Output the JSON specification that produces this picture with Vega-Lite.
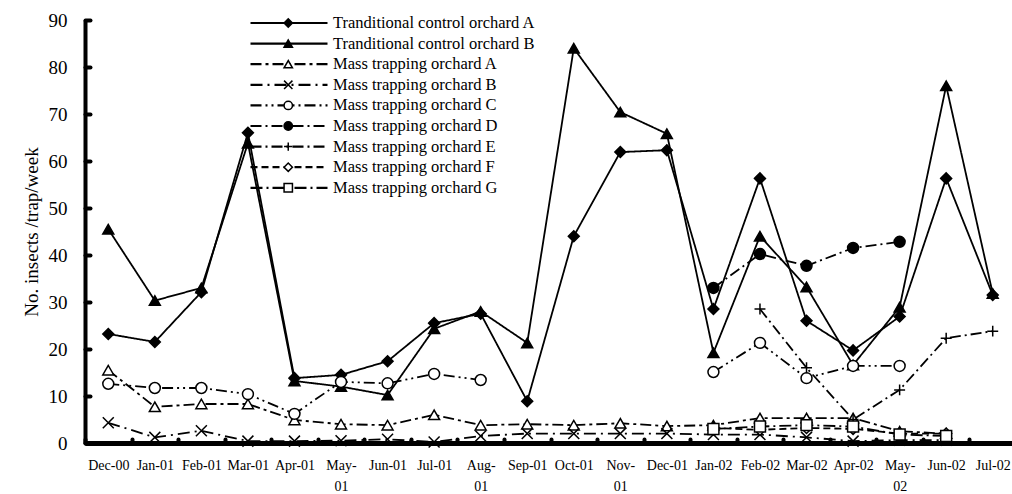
{
  "$schema": "https://vega.github.io/schema/vega-lite/v6.json",
  "width": 931,
  "height": 423,
  "autosize": {"type": "none"},
  "padding": {"left": 85, "top": 20, "right": 0, "bottom": 51},
  "background": "white",
  "config": {"view": {"stroke": null}, "font": "Liberation Serif"},
  "data": {
    "values": [
      {"month": "Dec-00", "Tranditional control orchard A": 23.2, "Tranditional control orchard B": 45.5, "Mass trapping orchard A": 15.5, "Mass trapping orchard B": 4.3, "Mass trapping orchard C": 12.6, "Mass trapping orchard D": null, "Mass trapping orchard E": null, "Mass trapping orchard F": null, "Mass trapping orchard G": null},
      {"month": "Jan-01", "Tranditional control orchard A": 21.5, "Tranditional control orchard B": 30.3, "Mass trapping orchard A": 7.7, "Mass trapping orchard B": 1.2, "Mass trapping orchard C": 11.7, "Mass trapping orchard D": null, "Mass trapping orchard E": null, "Mass trapping orchard F": null, "Mass trapping orchard G": null},
      {"month": "Feb-01", "Tranditional control orchard A": 32.1, "Tranditional control orchard B": 33.0, "Mass trapping orchard A": 8.3, "Mass trapping orchard B": 2.6, "Mass trapping orchard C": 11.7, "Mass trapping orchard D": null, "Mass trapping orchard E": null, "Mass trapping orchard F": null, "Mass trapping orchard G": null},
      {"month": "Mar-01", "Tranditional control orchard A": 66.0, "Tranditional control orchard B": 63.8, "Mass trapping orchard A": 8.3, "Mass trapping orchard B": 0.4, "Mass trapping orchard C": 10.4, "Mass trapping orchard D": null, "Mass trapping orchard E": null, "Mass trapping orchard F": null, "Mass trapping orchard G": null},
      {"month": "Apr-01", "Tranditional control orchard A": 13.8, "Tranditional control orchard B": 13.2, "Mass trapping orchard A": 4.9, "Mass trapping orchard B": 0.4, "Mass trapping orchard C": 6.2, "Mass trapping orchard D": null, "Mass trapping orchard E": null, "Mass trapping orchard F": null, "Mass trapping orchard G": null},
      {"month": "May-01", "Tranditional control orchard A": 14.5, "Tranditional control orchard B": 12.0, "Mass trapping orchard A": 4.0, "Mass trapping orchard B": 0.5, "Mass trapping orchard C": 13.0, "Mass trapping orchard D": null, "Mass trapping orchard E": null, "Mass trapping orchard F": null, "Mass trapping orchard G": null},
      {"month": "Jun-01", "Tranditional control orchard A": 17.4, "Tranditional control orchard B": 10.2, "Mass trapping orchard A": 3.8, "Mass trapping orchard B": 0.8, "Mass trapping orchard C": 12.7, "Mass trapping orchard D": null, "Mass trapping orchard E": null, "Mass trapping orchard F": null, "Mass trapping orchard G": null},
      {"month": "Jul-01", "Tranditional control orchard A": 25.5, "Tranditional control orchard B": 24.3, "Mass trapping orchard A": 6.0, "Mass trapping orchard B": 0.2, "Mass trapping orchard C": 14.7, "Mass trapping orchard D": null, "Mass trapping orchard E": null, "Mass trapping orchard F": null, "Mass trapping orchard G": null},
      {"month": "Aug-01", "Tranditional control orchard A": 27.5, "Tranditional control orchard B": 28.0, "Mass trapping orchard A": 3.8, "Mass trapping orchard B": 1.5, "Mass trapping orchard C": 13.4, "Mass trapping orchard D": null, "Mass trapping orchard E": null, "Mass trapping orchard F": null, "Mass trapping orchard G": null},
      {"month": "Sep-01", "Tranditional control orchard A": 8.9, "Tranditional control orchard B": 21.3, "Mass trapping orchard A": 4.0, "Mass trapping orchard B": 2.0, "Mass trapping orchard C": null, "Mass trapping orchard D": null, "Mass trapping orchard E": null, "Mass trapping orchard F": null, "Mass trapping orchard G": null},
      {"month": "Oct-01", "Tranditional control orchard A": 44.0, "Tranditional control orchard B": 84.0, "Mass trapping orchard A": 3.8, "Mass trapping orchard B": 2.0, "Mass trapping orchard C": null, "Mass trapping orchard D": null, "Mass trapping orchard E": null, "Mass trapping orchard F": null, "Mass trapping orchard G": null},
      {"month": "Nov-01", "Tranditional control orchard A": 61.9, "Tranditional control orchard B": 70.4, "Mass trapping orchard A": 4.2, "Mass trapping orchard B": 2.0, "Mass trapping orchard C": null, "Mass trapping orchard D": null, "Mass trapping orchard E": null, "Mass trapping orchard F": null, "Mass trapping orchard G": null},
      {"month": "Dec-01", "Tranditional control orchard A": 62.3, "Tranditional control orchard B": 65.8, "Mass trapping orchard A": 3.6, "Mass trapping orchard B": 2.0, "Mass trapping orchard C": null, "Mass trapping orchard D": null, "Mass trapping orchard E": null, "Mass trapping orchard F": null, "Mass trapping orchard G": null},
      {"month": "Jan-02", "Tranditional control orchard A": 28.5, "Tranditional control orchard B": 19.2, "Mass trapping orchard A": 3.8, "Mass trapping orchard B": 1.8, "Mass trapping orchard C": 15.1, "Mass trapping orchard D": 33.0, "Mass trapping orchard E": null, "Mass trapping orchard F": 3.2, "Mass trapping orchard G": 3.0},
      {"month": "Feb-02", "Tranditional control orchard A": 56.3, "Tranditional control orchard B": 44.0, "Mass trapping orchard A": 5.3, "Mass trapping orchard B": 1.8, "Mass trapping orchard C": 21.3, "Mass trapping orchard D": 40.2, "Mass trapping orchard E": 28.5, "Mass trapping orchard F": 2.8, "Mass trapping orchard G": 3.5},
      {"month": "Mar-02", "Tranditional control orchard A": 26.0, "Tranditional control orchard B": 33.2, "Mass trapping orchard A": 5.3, "Mass trapping orchard B": 1.2, "Mass trapping orchard C": 13.8, "Mass trapping orchard D": 37.7, "Mass trapping orchard E": 16.0, "Mass trapping orchard F": 3.2, "Mass trapping orchard G": 3.8},
      {"month": "Apr-02", "Tranditional control orchard A": 19.7, "Tranditional control orchard B": 16.6, "Mass trapping orchard A": 5.3, "Mass trapping orchard B": 0.4, "Mass trapping orchard C": 16.4, "Mass trapping orchard D": 41.5, "Mass trapping orchard E": 5.0, "Mass trapping orchard F": 3.0, "Mass trapping orchard G": 3.5},
      {"month": "May-02", "Tranditional control orchard A": 26.9, "Tranditional control orchard B": 28.9, "Mass trapping orchard A": 2.5, "Mass trapping orchard B": 0.6, "Mass trapping orchard C": 16.4, "Mass trapping orchard D": 42.8, "Mass trapping orchard E": 11.3, "Mass trapping orchard F": 2.0, "Mass trapping orchard G": 1.8},
      {"month": "Jun-02", "Tranditional control orchard A": 56.3, "Tranditional control orchard B": 76.0, "Mass trapping orchard A": 2.0, "Mass trapping orchard B": 0.6, "Mass trapping orchard C": null, "Mass trapping orchard D": null, "Mass trapping orchard E": 22.3, "Mass trapping orchard F": 2.0, "Mass trapping orchard G": 1.5},
      {"month": "Jul-02", "Tranditional control orchard A": 31.5, "Tranditional control orchard B": 31.8, "Mass trapping orchard A": null, "Mass trapping orchard B": null, "Mass trapping orchard C": null, "Mass trapping orchard D": null, "Mass trapping orchard E": 23.8, "Mass trapping orchard F": null, "Mass trapping orchard G": null}
    ]
  },
  "transform": [
    {"fold": ["Tranditional control orchard A", "Tranditional control orchard B", "Mass trapping orchard A", "Mass trapping orchard B", "Mass trapping orchard C", "Mass trapping orchard D", "Mass trapping orchard E", "Mass trapping orchard F", "Mass trapping orchard G"], "as": ["series", "value"]}
  ],
  "encoding": {
    "x": {
      "field": "month", "type": "nominal",
      "sort": ["Dec-00","Jan-01","Feb-01","Mar-01","Apr-01","May-01","Jun-01","Jul-01","Aug-01","Sep-01","Oct-01","Nov-01","Dec-01","Jan-02","Feb-02","Mar-02","Apr-02","May-02","Jun-02","Jul-02"],
      "scale": {"type": "band", "paddingInner": 0, "paddingOuter": 0},
      "axis": {
        "title": null, "labelAngle": 0, "labelFont": "Liberation Serif", "labelFontSize": 14, "labelColor": "black",
        "labelPadding": 19, "labelOverlap": false, "labelLineHeight": 21,
        "labelExpr": "indexof(['May-01','Aug-01','Nov-01','May-02'], datum.label) >= 0 ? [slice(datum.label, 0, 4), slice(datum.label, 4)] : datum.label",
        "tickBand": "extent", "tickSize": -4, "tickWidth": 4, "tickCap": "round", "tickColor": "black",
        "domainWidth": 5, "domainColor": "black", "grid": false
      }
    },
    "y": {
      "field": "value", "type": "quantitative",
      "scale": {"domain": [0, 90], "nice": false},
      "axis": {
        "title": "No. insects /trap/week", "titleFont": "Liberation Serif", "titleFontSize": 19, "titleFontWeight": "normal", "titleColor": "black", "titlePadding": 7,
        "values": [0,10,20,30,40,50,60,70,80,90],
        "labelFont": "Liberation Serif", "labelFontSize": 19, "labelColor": "black", "labelPadding": 23,
        "tickSize": -5, "tickWidth": 4, "tickCap": "round", "tickColor": "black",
        "domainWidth": 4, "domainColor": "black", "grid": false
      }
    }
  },
  "layer": [
    {
      "mark": {"type": "line", "color": "black", "strokeWidth": 1.8},
      "encoding": {
        "strokeDash": {
          "field": "series", "type": "nominal",
          "sort": ["Tranditional control orchard A", "Tranditional control orchard B", "Mass trapping orchard A", "Mass trapping orchard B", "Mass trapping orchard C", "Mass trapping orchard D", "Mass trapping orchard E", "Mass trapping orchard F", "Mass trapping orchard G"],
          "scale": {
            "range": [[1, 0], [1, 0], [11, 4, 3, 4], [12, 5, 2, 5], [11, 4, 2, 4, 2, 4], [11, 4, 2, 4], [11, 4, 2, 4], [7, 4], [12, 4, 2, 4]]
          },
          "legend": {
            "orient": "none", "legendX": 164, "legendY": -5, "title": null, "padding": 0,
            "symbolType": "stroke", "symbolSize": 5929, "symbolStrokeWidth": 2.2, "symbolStrokeColor": "black",
            "clipHeight": 16, "rowPadding": 3.6, "labelOffset": 4, "labelLimit": 0,
            "labelFont": "Liberation Serif", "labelFontSize": 16.5, "labelColor": "black"
          }
        }
      }
    },
    {
      "mark": {"type": "point", "filled": true, "stroke": "black", "strokeWidth": 1.5, "size": 120, "opacity": 1},
      "encoding": {
        "shape": {
          "field": "series", "type": "nominal",
          "scale": {
            "domain": ["Tranditional control orchard A", "Tranditional control orchard B", "Mass trapping orchard A", "Mass trapping orchard B", "Mass trapping orchard C", "Mass trapping orchard D", "Mass trapping orchard E", "Mass trapping orchard F", "Mass trapping orchard G"],
            "range": ["diamond", "triangle-up", "triangle-up", "M-1,-1L1,1M-1,1L1,-1", "circle", "circle", "M-1,0L1,0M0,-1L0,1", "diamond", "square"]
          },
          "legend": {
            "orient": "none", "legendX": 195, "legendY": -5, "title": null, "padding": 0,
            "symbolSize": 70, "symbolStrokeWidth": 1.5, "symbolStrokeColor": "black", "symbolFillColor": "white",
            "clipHeight": 16, "rowPadding": 3.6, "labelFontSize": 16.5, "labelExpr": "''"
          }
        },
        "fill": {
          "field": "series", "type": "nominal",
          "scale": {
            "domain": ["Tranditional control orchard A", "Tranditional control orchard B", "Mass trapping orchard A", "Mass trapping orchard B", "Mass trapping orchard C", "Mass trapping orchard D", "Mass trapping orchard E", "Mass trapping orchard F", "Mass trapping orchard G"],
            "range": ["black", "black", "white", "white", "white", "black", "white", "white", "white"]
          },
          "legend": {
            "orient": "none", "legendX": 195, "legendY": -5, "title": null, "padding": 0,
            "symbolSize": 70, "symbolStrokeWidth": 1.5, "symbolStrokeColor": "black", "symbolFillColor": "white",
            "clipHeight": 16, "rowPadding": 3.6, "labelFontSize": 16.5, "labelExpr": "''"
          }
        }
      }
    }
  ]
}
